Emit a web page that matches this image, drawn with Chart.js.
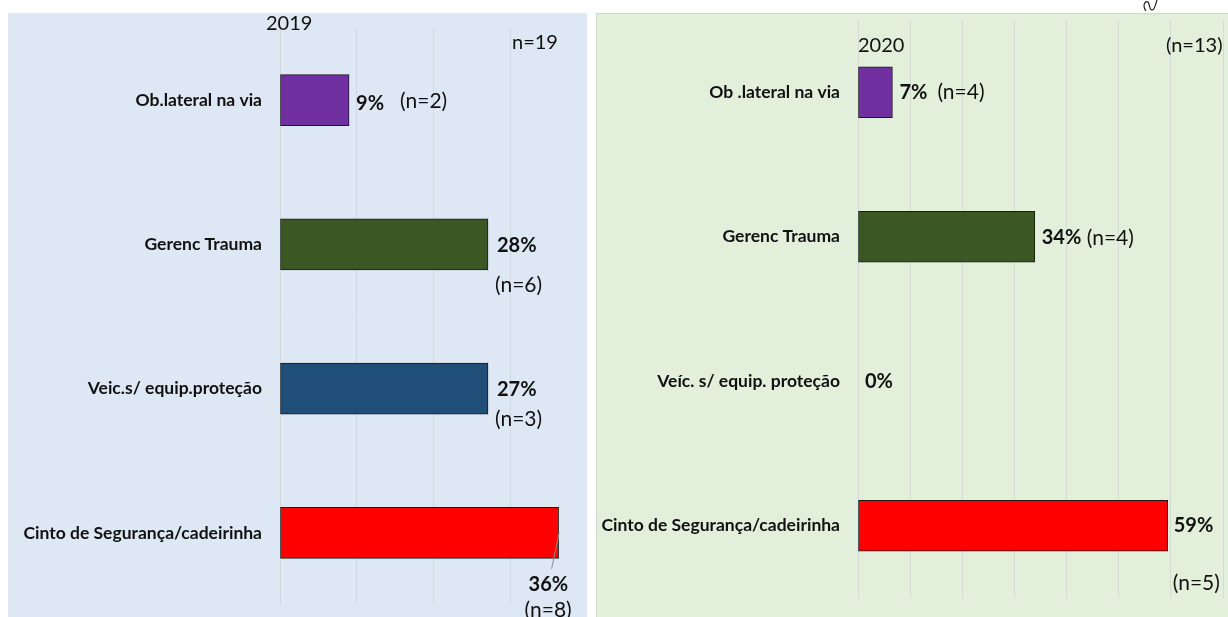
<!DOCTYPE html>
<html>
<head>
<meta charset="utf-8">
<script src="https://cdn.jsdelivr.net/npm/chart.js@4.4.1/dist/chart.umd.min.js"></script>
<style>
  body { margin: 0; background: #fff; width: 1228px; height: 617px; overflow: hidden; position: relative; font-family: Lato, sans-serif; }
  .panel { position: absolute; top: 13px; height: 604px; }
  #p2019 { left: 8px; width: 579px; background: #dde8f4; }
  #p2020 { left: 596px; width: 632px; background: #e2efda; border-left: 1px solid #d0d8cc; border-top: 1px solid #d0d8cc; box-sizing: border-box; }
  .panel canvas { position: absolute; left: 0; top: 0; }
  .txt { position: absolute; font-size: 20px; color: #111; white-space: nowrap; }
</style>
</head>
<body>
<div class="panel" id="p2019"><canvas id="c2019"></canvas></div>
<div class="panel" id="p2020"><canvas id="c2020"></canvas></div>
<div class="txt" style="left:266px;top:10px;">2019</div>
<div class="txt" style="left:512px;top:29px;">n=19</div>
<div class="txt" style="left:858px;top:32px;">2020</div>
<div class="txt" style="left:1166px;top:32px;">(n=13)</div>
<svg style="position:absolute;left:1136px;top:0" width="92" height="12">
  <path d="M10 11 C 6 6, 9 0, 12 2 C 14 4, 13 10, 16 10 C 19 10, 20 2, 21 0" fill="none" stroke="#222" stroke-width="1.2"/>
</svg>

<script>
// 2019
var cats2019 = ['Ob.lateral na via', 'Gerenc Trauma', 'Veic.s/ equip.proteção', 'Cinto de Segurança/cadeirinha'];
var vals2019 = [9, 27.1, 27.1, 36.3];
var pct2019 = ['9%', '28%', '27%', '36%'];
var n2019 = ['(n=2)', '(n=6)', '(n=3)', '(n=8)'];
var colors2019 = ['#7030a0', '#3a5724', '#1f4e79', '#ff0000'];

// 2020
var cats2020 = ['Ob .lateral na via', 'Gerenc Trauma', 'Veíc. s/ equip. proteção', 'Cinto de Segurança/cadeirinha'];
var vals2020 = [6.6, 33.9, 0, 59.4];
var pct2020 = ['7%', '34%', '0%', '59%'];
var n2020 = ['(n=4)', '(n=4)', '', '(n=5)'];
var colors2020 = ['#7030a0', '#3a5724', '#1f4e79', '#ff0000'];

// label placement relative to bar end: [dx, dy] for % and for n
var place2019 = [
  { p: [7, 3], n: [51, 1] },
  { p: [9, 1], n: [7, 41] },
  { p: [9, 1], n: [7, 31] },
  { p: [-30, 52], n: [-34, 77], leader: true }
];
var place2020 = [
  { p: [7, 0], n: [45, 0] },
  { p: [7, 1], n: [52, 1] },
  { p: [7, 0], n: [0, 0] },
  { p: [6, 0], n: [5, 57] }
];

var barLabels = {
  id: 'barLabels',
  afterDatasetsDraw: function (chart, args, opts) {
    var ctx = chart.ctx;
    var meta = chart.getDatasetMeta(0);
    ctx.save();
    ctx.textBaseline = 'middle';
    ctx.fillStyle = '#111';
    meta.data.forEach(function (bar, i) {
      var pl = opts.place[i];
      if (pl.leader) {
        ctx.strokeStyle = '#8c8c8c';
        ctx.lineWidth = 1;
        ctx.beginPath();
        ctx.moveTo(bar.x + 0.5, bar.y);
        ctx.lineTo(bar.x - 7, bar.y + 36);
        ctx.stroke();
      }
      ctx.font = 'bold 20px Lato';
      ctx.fillText(opts.pct[i], bar.x + pl.p[0], bar.y + pl.p[1]);
      ctx.font = '21px Lato';
      if (opts.n[i]) ctx.fillText(opts.n[i], bar.x + pl.n[0], bar.y + pl.n[1]);
    });
    ctx.restore();
  }
};

function makeChart(id, w, h, cats, vals, colors, max, axisW, pad, pct, n, place) {
  var cv = document.getElementById(id);
  cv.width = w; cv.height = h;
  cv.style.width = w + 'px'; cv.style.height = h + 'px';
  return new Chart(cv.getContext('2d'), {
    type: 'bar',
    data: {
      labels: cats,
      datasets: [{
        data: vals,
        backgroundColor: colors,
        borderColor: '#1a1a1a',
        borderWidth: 1,
        borderSkipped: false,
        barThickness: 51
      }]
    },
    options: {
      indexAxis: 'y',
      responsive: false,
      animation: false,
      layout: { padding: pad },
      plugins: {
        legend: { display: false },
        tooltip: { enabled: false },
        barLabels: { pct: pct, n: n, place: place }
      },
      scales: {
        x: {
          min: 0, max: max,
          ticks: { display: false, stepSize: 10 },
          grid: { color: '#d3d9de', drawTicks: false },
          border: { display: false },
          afterFit: function (s) { s.height = 0; s.paddingLeft = 0; s.paddingRight = 0; }
        },
        y: {
          ticks: { color: '#111', font: { family: 'Lato', weight: 'bold', size: 17.5 }, padding: 18 },
          grid: { display: false, drawTicks: false },
          border: { display: false },
          afterFit: function (s) { s.width = axisW; s.paddingTop = 0; s.paddingBottom = 0; }
        }
      }
    },
    plugins: [barLabels]
  });
}

makeChart('c2019', 579, 604, cats2019, vals2019, colors2019, 40, 272,
  { top: 15, bottom: 12, right: 0, left: 0 }, pct2019, n2019, place2019);
makeChart('c2020', 632, 604, cats2020, vals2020, colors2020, 70, 261,
  { top: 6, bottom: 20, right: 6, left: 0 }, pct2020, n2020, place2020);
</script>
</body>
</html>
